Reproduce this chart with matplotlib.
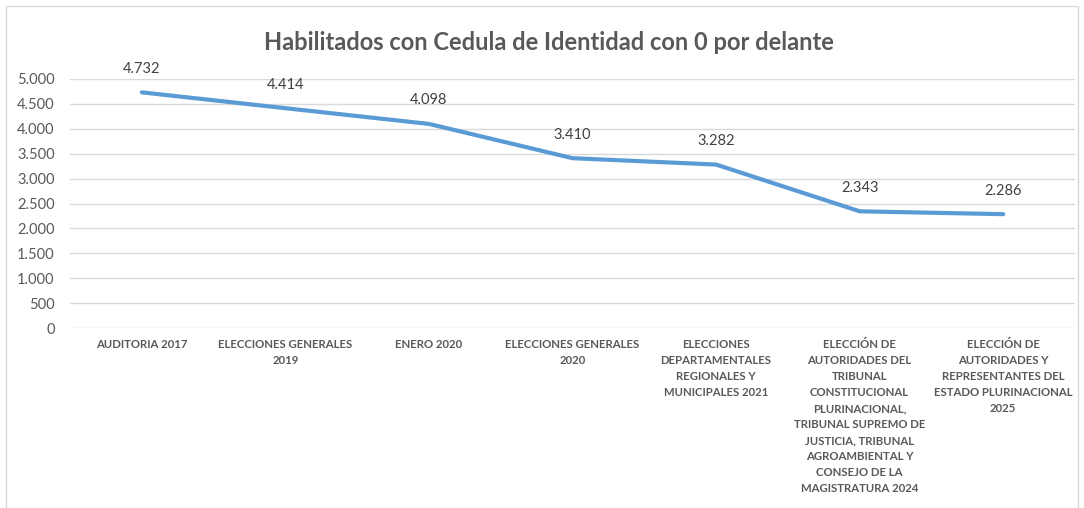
import matplotlib
matplotlib.use('Agg')
import matplotlib.pyplot as plt
from matplotlib.patches import Rectangle
from matplotlib.ticker import FuncFormatter

categorias = [
    'AUDITORIA 2017',
    'ELECCIONES GENERALES\n2019',
    'ENERO 2020',
    'ELECCIONES GENERALES\n2020',
    'ELECCIONES\nDEPARTAMENTALES\nREGIONALES Y\nMUNICIPALES 2021',
    'ELECCIÓN DE\nAUTORIDADES DEL\nTRIBUNAL\nCONSTITUCIONAL\nPLURINACIONAL,\nTRIBUNAL SUPREMO DE\nJUSTICIA, TRIBUNAL\nAGROAMBIENTAL Y\nCONSEJO DE LA\nMAGISTRATURA 2024',
    'ELECCIÓN DE\nAUTORIDADES Y\nREPRESENTANTES DEL\nESTADO PLURINACIONAL\n2025',
]
habilitados = [4732, 4414, 4098, 3410, 3282, 2343, 2286]
yticks = [0, 500, 1000, 1500, 2000, 2500, 3000, 3500, 4000, 4500, 5000]

plt.rcParams['font.family'] = ['Lato', 'DejaVu Sans']

fig = plt.figure(figsize=(10.84, 5.08), dpi=100)
# marco del grafico
fig.patches.append(Rectangle((6/1084, -0.02), 1072/1084, 1.0 - 6/508 + 0.02,
                             transform=fig.transFigure, fill=False,
                             edgecolor='#D9D9D9', linewidth=1))

ax = fig.add_axes([70/1084, 1 - 328/508, 1005/1084, 249/508])
x = list(range(len(categorias)))
ax.plot(x, habilitados, color='#5B9BD5', linewidth=3, solid_joinstyle='round',
        solid_capstyle='round', zorder=3)

for xi, v in zip(x, habilitados):
    ax.annotate(f'{v:,}'.replace(',', '.'), (xi, v), xytext=(0, 17),
                textcoords='offset points', ha='center', va='center',
                fontsize=10.5, color='#404040')

ax.set_xlim(-0.5, len(categorias) - 0.5)
ax.set_ylim(0, 5000)
ax.set_yticks(yticks)
ax.yaxis.set_major_formatter(FuncFormatter(lambda v, p: f'{int(v):,}'.replace(',', '.')))
ax.grid(axis='y', color='#D9D9D9', linewidth=1)
ax.set_axisbelow(True)
for s in ax.spines.values():
    s.set_visible(False)
ax.tick_params(axis='y', length=0, pad=11, labelsize=10.5, labelcolor='#595959')
ax.set_xticks(x)
ax.set_xticklabels(categorias, fontsize=8.2, fontweight='bold', color='#595959',
                   linespacing=1.56, va='top')
ax.tick_params(axis='x', length=0, pad=8)

fig.text(549/1084, 1 - 42/508, 'Habilitados con Cedula de Identidad con 0 por delante',
         ha='center', va='center', fontsize=17, fontweight='bold', color='#595959')

fig.savefig('out.png', dpi=100)
